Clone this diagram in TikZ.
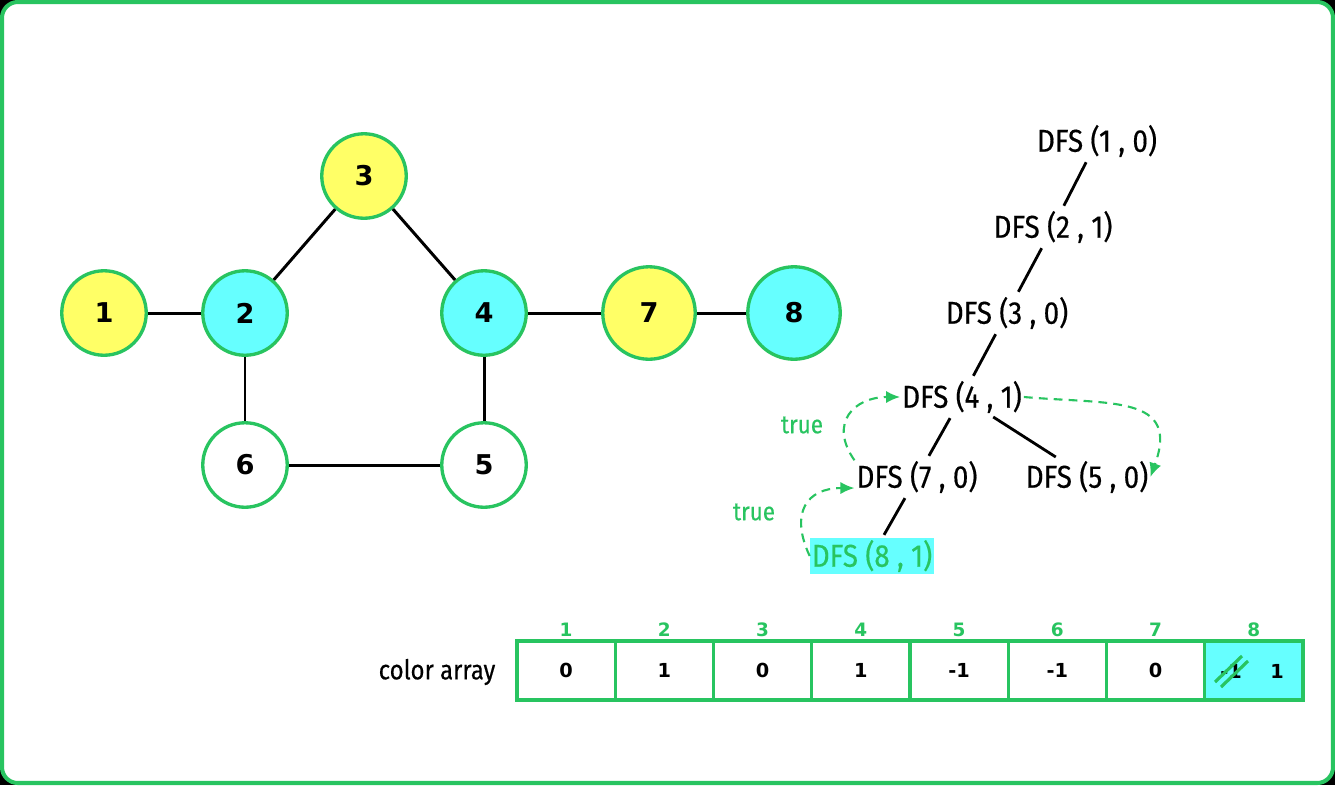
\documentclass[tikz,border=0pt]{standalone}
\usepackage{fontspec}
\setmainfont[FakeStretch=0.88, FakeBold=0.4]{Fira Sans}
\newfontfamily\numfont{DejaVu Sans}
\usetikzlibrary{arrows.meta}
\definecolor{grn}{RGB}{40,196,96}
\definecolor{ylw}{RGB}{255,255,102}
\definecolor{cyn}{RGB}{102,255,255}

\begin{document}
\begin{tikzpicture}[x=0.02cm, y=-0.02cm,
  vert/.style={circle, draw=grn, line width=1.9pt, inner sep=0pt, minimum size=1.69cm,
    font=\numfont\bfseries\fontsize{15.5}{16}\selectfont},
  big/.style={minimum size=1.85cm},
  gedge/.style={line width=1.7pt},
  call/.style={inner sep=1pt, font=\fontsize{18}{20}\selectfont},
  tedge/.style={line width=1.6pt, shorten <=2pt, shorten >=2pt},
  flow/.style={grn, line width=1.2pt, dash pattern=on 5pt off 3.5pt, -{Latex[length=8pt,width=7pt]}},
  yes/.style={grn, font=\fontsize{14.5}{16}\selectfont},
  cell/.style={draw=grn, line width=1.8pt, minimum width=1.965cm, minimum height=1.18cm,
    font=\numfont\bfseries\fontsize{11}{12}\selectfont},
  idx/.style={grn, font=\numfont\bfseries\fontsize{10.5}{11}\selectfont}]
  \useasboundingbox (0,0) rectangle (1335,785);
  \fill[black] (0,0) rectangle (1335,785);
  \draw[grn, line width=2.3pt, fill=white, rounded corners=9pt] (2,2) rectangle (1333,783);

  \node[vert, fill=ylw] (n1) at (104,313) {1};
  \node[vert, fill=cyn] (n2) at (245,313) {2};
  \node[vert, fill=ylw] (n3) at (364,176) {3};
  \node[vert, fill=cyn] (n4) at (484,313) {4};
  \node[vert, fill=white] (n5) at (484,465) {5};
  \node[vert, fill=white] (n6) at (245,465) {6};
  \node[vert, big, fill=ylw] (n7) at (649,313) {7};
  \node[vert, big, fill=cyn] (n8) at (794,313) {8};
  \draw[gedge] (n1) -- (n2);
  \draw[gedge] (n2) -- (n3);
  \draw[gedge] (n3) -- (n4);
  \draw[gedge] (n4) -- (n7);
  \draw[gedge] (n7) -- (n8);
  \draw[gedge] (n2) -- (n6);
  \draw[gedge] (n6) -- (n5);
  \draw[gedge] (n4) -- (n5);

  \node[call] (d1) at (1097,141) {DFS (1 , 0)};
  \node[call] (d2) at (1053,227) {DFS (2 , 1)};
  \node[call] (d3) at (1007,313) {DFS (3 , 0)};
  \node[call] (d4) at (962,397) {DFS (4 , 1)};
  \node[call] (d7) at (917,477) {DFS (7 , 0)};
  \node[call] (d5) at (1087,477) {DFS (5 , 0)};
  \node[call, fill=cyn, text=grn] (d8) at (872,556) {DFS (8 , 1)};
  \draw[tedge] (d1) -- (d2);
  \draw[tedge] (d2) -- (d3);
  \draw[tedge] (d3) -- (d4);
  \draw[tedge] (d4) -- (d7);
  \draw[tedge] (d4) -- (d5);
  \draw[tedge] (d7) -- (d8);

  \node[yes] (t1) at (802,425) {true};
  \node[yes] (t2) at (754,512) {true};
  \draw[flow] (d7.165) to[out=125, in=180, looseness=1.5] (d4.west);
  \draw[flow] (d8.west) to[out=115, in=180, looseness=1.5] (d7.190);
  \draw[flow] (d4.east) to[out=-5, in=70, looseness=1.5] (d5.east);

  \node (lbl) at (437,672) {\fontsize{15.5}{17}\selectfont color array};
  \foreach \v [count=\i] in {0,1,0,1,-1,-1,0} {
    \node[cell] (c\i) at (517+98.25*\i-49.1,670.5) {\v};
    \node[idx] (k\i) at (566+98.25*\i-98.25,630) {\i};
  }
  \node[cell, fill=cyn] (c8) at (1253.9,670.5) {};
  \node[idx] (k8) at (1253.9,630) {8};
  \node[font=\numfont\bfseries\fontsize{11}{12}\selectfont] (v8a) at (1231,671) {-1};
  \node[font=\numfont\bfseries\fontsize{11}{12}\selectfont] (v8b) at (1277,671) {1};
  \draw[grn, line width=1.8pt] ([shift={(-16,11)}]v8a.center) -- ++(27,-26);
  \draw[grn, line width=1.8pt] ([shift={(-10,16)}]v8a.center) -- ++(27,-26);
\end{tikzpicture}
\end{document}
